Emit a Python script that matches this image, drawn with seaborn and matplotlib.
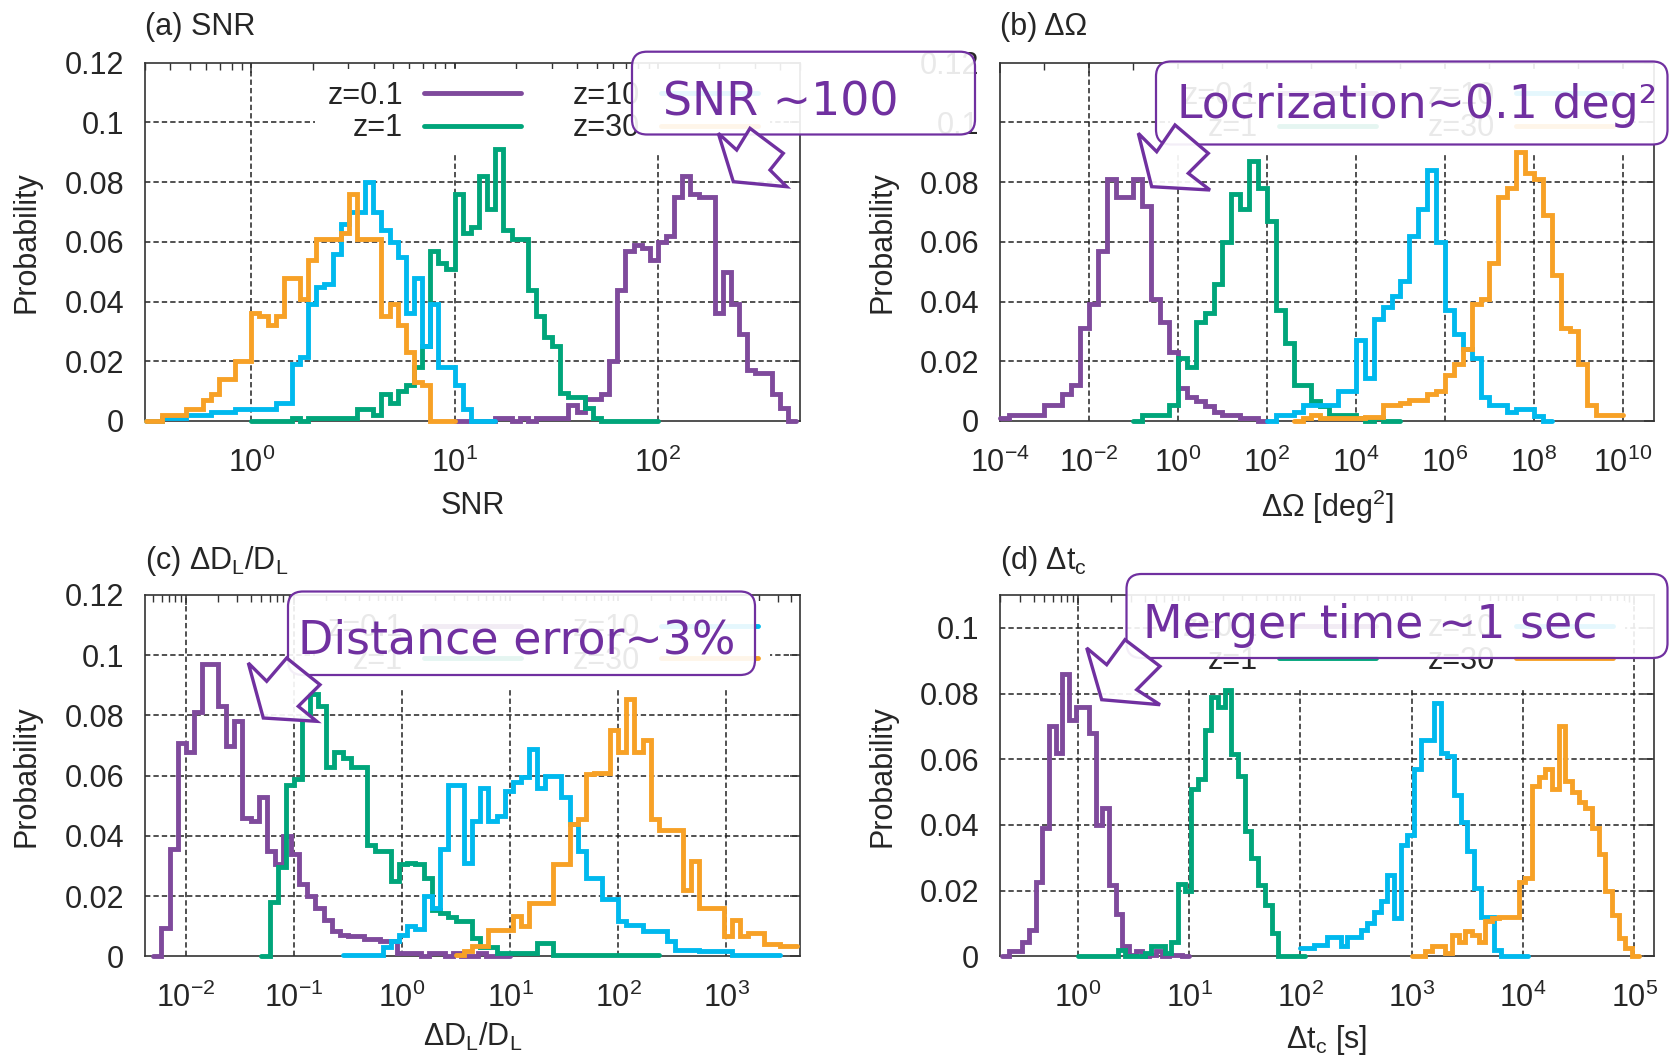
import numpy as np
import pandas as pd
import matplotlib
matplotlib.use("Agg")
import matplotlib.pyplot as plt
import seaborn as sns
from matplotlib.patches import FancyBboxPatch, Polygon
from matplotlib.ticker import FixedLocator, FuncFormatter, NullLocator

# ------------------------------------------------------------------ data
z_labels = ["z=0.1", "z=1", "z=10", "z=30"]
z_colors = ["#7f4a9c", "#00a57a", "#00b9ee", "#f7a126"]

# (a) SNR : log10 bins of width 0.04, start exponent per series
snr_bin = 0.04
snr_starts = [1.0, 0.0, -0.52, -0.52]
snr_z01 = [0, 0, 0, 0, 0, 0.001, 0.001, 0, 0.001, 0, 0.001, 0.001, 0.001, 0.001, 0.0055,
           0.003, 0.0075, 0.0075, 0.009, 0.02, 0.044, 0.057, 0.059, 0.058, 0.054,
           0.06, 0.062, 0.075, 0.082, 0.076, 0.075, 0.075, 0.036, 0.05, 0.039,
           0.029, 0.017, 0.016, 0.016, 0.009, 0.0045, 0]
snr_z1 = [0, 0, 0, 0, 0, 0.001, 0, 0.001, 0.001, 0.001, 0.001, 0.001, 0.001, 0.004, 0.004,
          0.002, 0.009, 0.006, 0.010, 0.012, 0.018, 0.025, 0.057, 0.053, 0.051,
          0.076, 0.063, 0.065, 0.082, 0.071, 0.091, 0.064, 0.061, 0.061, 0.044,
          0.035, 0.028, 0.025, 0.0095, 0.008, 0.008, 0.0045, 0.001, 0, 0, 0, 0, 0, 0, 0]
snr_z10 = [0, 0, 0.001, 0.001, 0.001, 0.002, 0.002, 0.002, 0.003, 0.003, 0.003, 0.004, 0.004,
           0.004, 0.004, 0.004, 0.006, 0.006, 0.019, 0.0215, 0.039, 0.045, 0.046, 0.056,
           0.066, 0.070, 0.070, 0.080, 0.070, 0.064, 0.060, 0.055, 0.036, 0.048, 0.025,
           0.039, 0.018, 0.018, 0.012, 0.004, 0, 0, 0]
snr_z30 = [0, 0, 0.002, 0.002, 0.002, 0.004, 0.004, 0.007, 0.009, 0.014, 0.014, 0.02, 0.02,
           0.036, 0.035, 0.032, 0.035, 0.048, 0.048, 0.041, 0.054, 0.061, 0.061, 0.061,
           0.063, 0.076, 0.061, 0.061, 0.061, 0.035, 0.039, 0.032, 0.023, 0.013, 0.012, 0, 0, 0]

# (b) Delta Omega : bins of 0.2 decade
dom_bin = 0.2
dom_starts = [-4.0, -1.0, 2.0, 2.6]
dom_z01 = [0.001, 0.002, 0.002, 0.002, 0.002, 0.0055, 0.0055, 0.009, 0.012, 0.031,
           0.039, 0.057, 0.081, 0.075, 0.075, 0.081, 0.072, 0.041, 0.033, 0.023,
           0.011, 0.008, 0.0067, 0.005, 0.003, 0.002, 0.002, 0.001, 0.001, 0]
dom_z1 = [0, 0.002, 0.002, 0.002, 0.0055, 0.021, 0.018, 0.033, 0.036, 0.046,
          0.060, 0.076, 0.071, 0.087, 0.078, 0.067, 0.037, 0.026, 0.012, 0.012,
          0.0067, 0.005, 0.002, 0.002, 0.002, 0.001, 0, 0.001, 0, 0]
dom_z10 = [0, 0.002, 0.002, 0.003, 0.0055, 0.0055, 0.0055, 0.0055, 0.010, 0.010,
           0.027, 0.0145, 0.034, 0.038, 0.042, 0.047, 0.062, 0.071, 0.084, 0.060,
           0.037, 0.029, 0.024, 0.021, 0.008, 0.0055, 0.0055, 0.003, 0.004, 0.004, 0.0017, 0]
dom_z30 = [0, 0.001, 0.002, 0.001, 0.001, 0.001, 0.001, 0.001, 0.0015, 0.0015,
           0.0055, 0.0055, 0.006, 0.007, 0.007, 0.009, 0.010, 0.0155, 0.019, 0.024,
           0.039, 0.041, 0.053, 0.075, 0.078, 0.090, 0.083, 0.081, 0.069, 0.049,
           0.031, 0.030, 0.019, 0.0055, 0.002, 0.002, 0.002]

# (c) Delta D_L / D_L : bins of 0.075 decade
ddl_bin = 0.075
ddl_starts = [-2.30, -1.30, -0.55, 0.50]
ddl_z01 = [0, 0.0094, 0.0356, 0.071, 0.068, 0.081, 0.097, 0.097, 0.083, 0.070,
           0.078, 0.046, 0.045, 0.053, 0.035, 0.0305, 0.040, 0.034, 0.024, 0.020,
           0.016, 0.012, 0.0083, 0.0072, 0.0067, 0.0067, 0.0056, 0.0056, 0.005, 0.005,
           0.001, 0.001, 0.001, 0, 0.001, 0.001, 0, 0.001, 0, 0, 0.001, 0, 0, 0]
ddl_z1 = [0, 0.018, 0.0295, 0.057, 0.059, 0.079, 0.087, 0.083, 0.063, 0.068,
          0.066, 0.063, 0.063, 0.037, 0.035, 0.035, 0.025, 0.0305, 0.031, 0.0305,
          0.026, 0.0155, 0.0145, 0.013, 0.0117, 0.0117, 0.006, 0.003, 0.003, 0.001,
          0.001, 0.001, 0.001, 0.001, 0.0045, 0.0045, 0.0005, 0.0005, 0.0005, 0.0005,
          0.0005, 0.0005, 0.0005, 0.0005, 0.0005, 0.0005, 0.0005, 0.0005, 0.0005]
ddl_z10 = [0.0005, 0.0005, 0.0005, 0.0005, 0.0005, 0.003, 0.005, 0.0072, 0.010, 0.009,
           0.020, 0.016, 0.0356, 0.057, 0.057, 0.031, 0.045, 0.056, 0.045, 0.0467,
           0.055, 0.058, 0.0594, 0.069, 0.056, 0.060, 0.060, 0.053, 0.044, 0.035,
           0.026, 0.026, 0.019, 0.019, 0.0117, 0.0105, 0.0105, 0.0083, 0.0083, 0.0083,
           0.005, 0.002, 0.002, 0.002, 0.0017, 0.0017, 0.0017, 0.0017, 0.0005, 0.0005,
           0.0005, 0.0005, 0.0005, 0.0005]
ddl_z30 = [0.0005, 0.0017, 0.0033, 0.0033, 0.0089, 0.0089, 0.0089, 0.0133, 0.010, 0.0178,
           0.0178, 0.0178, 0.0306, 0.0306, 0.044, 0.0456, 0.0606, 0.061, 0.061, 0.075,
           0.068, 0.0856, 0.068, 0.0717, 0.0456, 0.042, 0.042, 0.042, 0.022, 0.0317,
           0.016, 0.016, 0.016, 0.0067, 0.0122, 0.0067, 0.0078, 0.0078, 0.004, 0.004,
           0.0033, 0.0033]

# (d) Delta t_c : bins of 0.06 decade
dtc_bin = 0.06
dtc_starts = [-0.68, 0.0, 2.0, 3.0]
dtc_z01 = [0, 0.0015, 0.0015, 0.0045, 0.008, 0.0227, 0.039, 0.070, 0.062, 0.086,
           0.072, 0.076, 0.076, 0.068, 0.040, 0.045, 0.0217, 0.013, 0.003, 0.0005,
           0.0015, 0, 0.0005, 0.0015, 0, 0.0005, 0.0005, 0]
dtc_z1 = [0, 0, 0, 0, 0, 0, 0.002, 0, 0, 0, 0.001, 0.003, 0.003, 0.001, 0.0045,
          0.022, 0.02, 0.051, 0.054, 0.069, 0.079, 0.076, 0.081, 0.0616, 0.055,
          0.038, 0.030, 0.0217, 0.0157, 0.007, 0, 0, 0, 0]
dtc_z10 = [0.0025, 0.0025, 0.0035, 0.0035, 0.006, 0.006, 0.003, 0.006, 0.006, 0.008,
           0.010, 0.0136, 0.0167, 0.0247, 0.0116, 0.034, 0.037, 0.057, 0.066, 0.066,
           0.077, 0.062, 0.061, 0.049, 0.041, 0.032, 0.0207, 0.012, 0.012, 0.002, 0, 0, 0, 0]
dtc_z30 = [0, 0, 0.0015, 0.003, 0.003, 0.001, 0.0066, 0.0045, 0.0076, 0.0066,
           0.0045, 0.0106, 0.0116, 0.012, 0.012, 0.012, 0.0227, 0.0237, 0.052, 0.0545,
           0.057, 0.051, 0.070, 0.0535, 0.05, 0.047, 0.045, 0.039, 0.031, 0.02,
           0.0126, 0.0056, 0.0025, 0]

panel_titles = ["(a) SNR", "(b) ΔΩ",
                r"(c) ΔD$_\mathregular{L}$/D$_\mathregular{L}$", r"(d) Δt$_\mathregular{c}$"]
panel_xlabels = ["SNR", r"ΔΩ [deg$^\mathregular{2}$]",
                 r"ΔD$_\mathregular{L}$/D$_\mathregular{L}$", r"Δt$_\mathregular{c}$ [s]"]
panel_xlims = [(0.3, 500), (1e-4, 5e10), (0.0042, 4800), (0.2, 1.5e5)]
panel_ymax = [0.12, 0.12, 0.12, 0.11]
panel_xmajor = [[1, 10, 100],
                [1e-4, 1e-2, 1, 1e2, 1e4, 1e6, 1e8, 1e10],
                [1e-2, 1e-1, 1, 10, 100, 1000],
                [1, 10, 100, 1e3, 1e4, 1e5]]
notes = ["SNR ~100", "Locrization~0.1 deg²", "Distance error~3%", "Merger time ~1 sec"]

# ------------------------------------------------------------------ style
sns.set_theme(style="white")
plt.rcParams["font.family"] = ["Liberation Sans", "DejaVu Sans"]
plt.rcParams["mathtext.fontset"] = "custom"
plt.rcParams["mathtext.rm"] = "Liberation Sans"
plt.rcParams["mathtext.it"] = "Liberation Sans:italic"
plt.rcParams["mathtext.bf"] = "Liberation Sans:bold"
plt.rcParams["mathtext.sf"] = "Liberation Sans"

TXT = "#262626"
PURPLE = "#7030a0"
FS = 22
W, H = 1680, 1058

fig = plt.figure(figsize=(W / 100, H / 100), dpi=100)
fig.patch.set_facecolor("white")


def rect(x0, y0, x1, y1):
    return [x0 / W, 1 - y1 / H, (x1 - x0) / W, (y1 - y0) / H]


axes_px = [(145, 62.5, 800, 421), (1000, 62.5, 1654, 421),
           (145, 595, 800, 956.3), (1000, 595, 1654, 956.3)]
title_px = [(145, 27), (1000, 27), (145, 561), (1000, 561)]
xlabel_y = [-0.237, -0.24, -0.222, -0.232]

series = [
    (snr_bin, snr_starts, [snr_z01, snr_z1, snr_z10, snr_z30]),
    (dom_bin, dom_starts, [dom_z01, dom_z1, dom_z10, dom_z30]),
    (ddl_bin, ddl_starts, [ddl_z01, ddl_z1, ddl_z10, ddl_z30]),
    (dtc_bin, dtc_starts, [dtc_z01, dtc_z1, dtc_z10, dtc_z30]),
]


def log_fmt(v, pos):
    return r"$\mathregular{10^{%d}}$" % int(round(np.log10(v)))


for i in range(4):
    ax = fig.add_axes(rect(*axes_px[i]))
    ax.set_facecolor("white")
    width, starts, vals = series[i]
    handles = []
    for start, heights, col in zip(starts, vals, z_colors):
        heights = np.asarray(heights, dtype=float)
        edges = 10.0 ** (start + width * np.arange(len(heights) + 1))
        centers = np.sqrt(edges[:-1] * edges[1:])
        df = pd.DataFrame({"value": centers, "prob": heights})
        sns.histplot(data=df, x="value", weights="prob", bins=edges.tolist(),
                     element="step", fill=False, color=col, linewidth=3.5, ax=ax,
                     zorder=3, clip_on=False)
        ln = ax.lines[-1]
        ln.set_solid_joinstyle("miter")
        handles.append(ln)

    ax.set_xscale("log")
    ax.set_xlim(*panel_xlims[i])
    ax.set_ylim(0, panel_ymax[i])

    majors = panel_xmajor[i]
    ax.xaxis.set_major_locator(FixedLocator(majors))
    ax.xaxis.set_major_formatter(FuncFormatter(log_fmt))
    if i == 1:
        ax.xaxis.set_minor_locator(FixedLocator(10.0 ** np.arange(-3, 11, 2)))
    else:
        ax.xaxis.set_minor_locator(matplotlib.ticker.LogLocator(base=10, subs=np.arange(2, 10)))
    ax.xaxis.set_minor_formatter(matplotlib.ticker.NullFormatter())

    yt = np.round(np.arange(0, panel_ymax[i] + 1e-9, 0.02), 2)
    ax.yaxis.set_major_locator(FixedLocator(yt))
    ax.yaxis.set_major_formatter(FuncFormatter(lambda v, p: "%g" % round(v, 3)))
    ax.yaxis.set_minor_locator(NullLocator())

    for t in majors:
        if panel_xlims[i][0] < t < panel_xlims[i][1]:
            ax.axvline(t, color="#222222", lw=1.1, ls=(0, (3.5, 2.0)), zorder=0.5)
    for v in yt:
        if 0 < v < panel_ymax[i] - 1e-9:
            ax.axhline(v, color="#222222", lw=1.1, ls=(0, (3.5, 2.0)), zorder=0.5)

    ax.tick_params(axis="both", which="both", direction="in", top=True, right=True,
                   colors="#333333", labelcolor=TXT, labelsize=FS)
    ax.tick_params(axis="both", which="major", length=7.5, width=1.1)
    ax.tick_params(axis="both", which="minor", length=5, width=1.0)
    ax.tick_params(axis="x", which="major", pad=19)
    ax.tick_params(axis="y", which="major", pad=15)
    for sp in ax.spines.values():
        sp.set_color("#333333")
        sp.set_linewidth(1.2)
        sp.set_visible(True)

    ax.set_ylabel("Probability", fontsize=FS, color=TXT)
    ax.yaxis.set_label_coords(-118 / 655, 0.5)
    ax.yaxis.label.set_va("center")
    ax.set_xlabel(panel_xlabels[i], fontsize=FS, color=TXT)
    ax.xaxis.set_label_coords(0.5, xlabel_y[i])
    ax.xaxis.label.set_va("center")

    leg = ax.legend(handles, z_labels, ncol=2, markerfirst=False, loc="upper left",
                    bbox_to_anchor=(0.26, 0.983), borderaxespad=0, borderpad=0.4,
                    handlelength=3.17, handletextpad=0.69, columnspacing=1.7,
                    labelspacing=0.08, frameon=True, fancybox=False, framealpha=1,
                    fontsize=FS, labelcolor=TXT)
    leg.get_frame().set_facecolor("white")
    leg.get_frame().set_edgecolor("none")
    leg.set_zorder(1)

    fig.text(title_px[i][0] / W, 1 - title_px[i][1] / H, panel_titles[i],
             ha="left", va="center", fontsize=FS, color=TXT)

# ------------------------------------------------------------------ callouts
ov = fig.add_axes([0, 0, 1, 1], zorder=10)
ov.set_xlim(0, W)
ov.set_ylim(H, 0)
ov.set_axis_off()
ov.patch.set_alpha(0)

boxes_px = [(632, 51.7, 975, 134.5), (1156, 61.5, 1667.5, 144.5),
            (288, 591.5, 755, 675), (1126.5, 574, 1667.5, 658)]
text_px = [(663, 115), (1177, 118.3), (298, 653), (1143, 638)]
arrows_px = [
    [(718.3, 133.3), (736.7, 150), (750, 128.3), (783.3, 153.3), (770, 170), (786.7, 186.7), (733.3, 181.7)],
    [(1138.3, 133.3), (1156.7, 151.7), (1175, 125), (1208.3, 153.3), (1188.3, 173.3), (1210, 190), (1151.7, 186.7)],
    [(248.3, 663), (266.7, 681.3), (286.7, 658), (320, 684.7), (298.3, 706.3), (316.7, 721.3), (263.3, 718)],
    [(1086.7, 648), (1106.7, 664.7), (1125, 639.7), (1160, 666.3), (1136.7, 689.7), (1160, 704.7), (1101.7, 699.7)],
]

for (x0, y0, x1, y1), (tx, ty), note, arr in zip(boxes_px, text_px, notes, arrows_px):
    box = FancyBboxPatch((x0, y0), x1 - x0, y1 - y0,
                         boxstyle="round,pad=0,rounding_size=15",
                         facecolor=(1, 1, 1, 0.9), edgecolor=PURPLE, linewidth=1.6)
    ov.add_patch(box)
    ov.text(tx, ty, note, ha="left", va="baseline", fontsize=33, color=PURPLE,
            family=["DejaVu Sans"])
    poly = Polygon(arr, closed=True, facecolor=(1, 1, 1, 0.92), edgecolor=PURPLE,
                   linewidth=2.4, joinstyle="miter")
    ov.add_patch(poly)

fig.savefig("out.png", dpi=100, facecolor="white")
